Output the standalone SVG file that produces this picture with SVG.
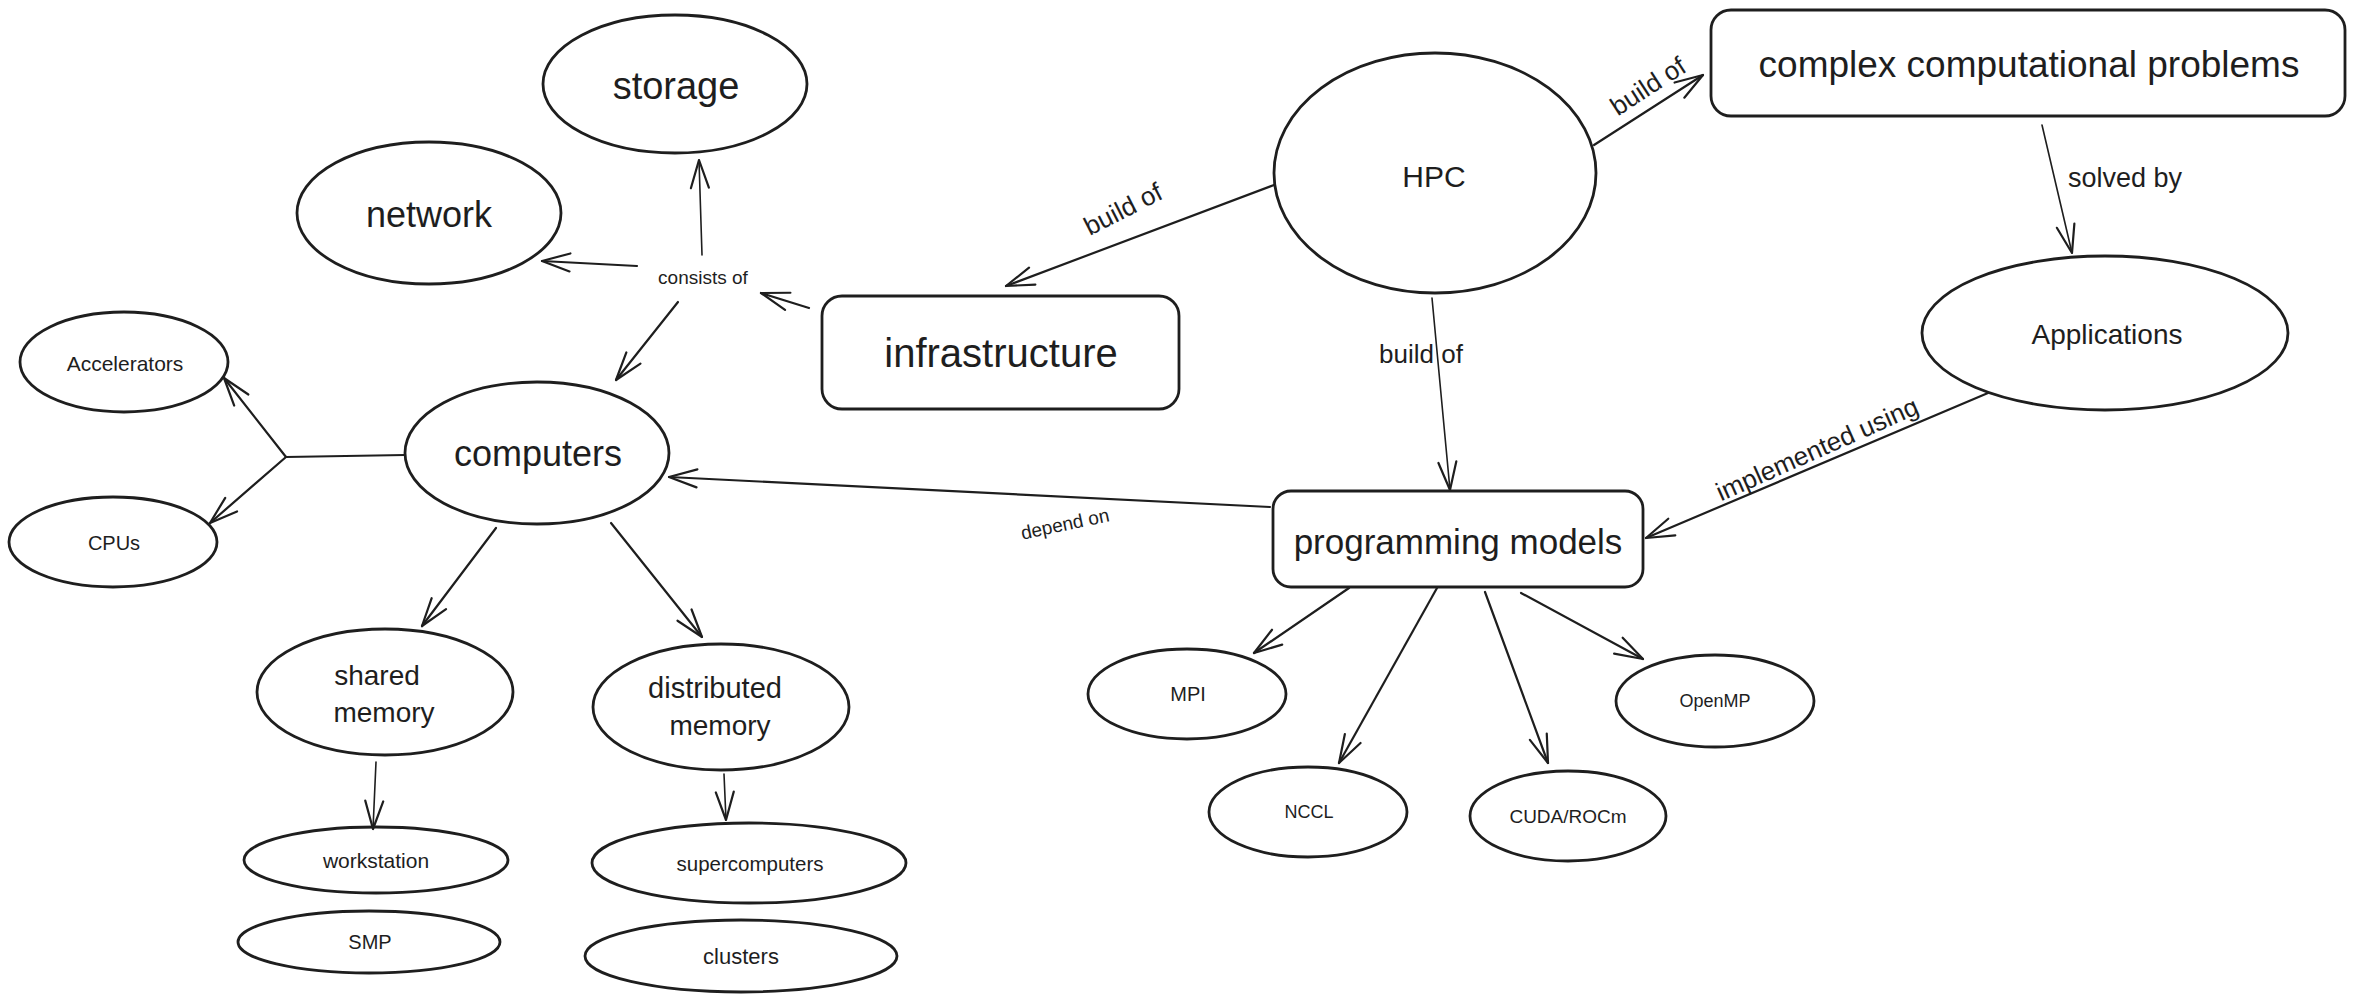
<svg xmlns="http://www.w3.org/2000/svg" width="2355" height="1002" viewBox="0 0 2355 1002">
<style>
.s{fill:none;stroke:#1e1e1e;stroke-width:2.8;stroke-linecap:round;stroke-linejoin:round}
.c{fill:none;stroke:#1e1e1e;stroke-width:2.2;stroke-linecap:round;stroke-linejoin:round}
.ct{stroke-width:1.6}
text{font-family:"Liberation Sans",Arial,sans-serif;fill:#1e1e1e;text-anchor:middle;dominant-baseline:central}
</style>
<defs>
<marker id="ah" viewBox="-32 -16 36 32" refX="0" refY="0" markerWidth="36" markerHeight="32" markerUnits="userSpaceOnUse" orient="auto">
<path d="M-28,-9 L0,0 L-28,9" fill="none" stroke="#1e1e1e" stroke-width="2.2" stroke-linecap="round" stroke-linejoin="round"/>
</marker>
</defs>
<rect width="2355" height="1002" fill="#ffffff"/>

<g id="connectors">
<path class="c ct" d="M702,255 L699,160" marker-end="url(#ah)"/>
<path class="c" d="M637,266 L542,261" marker-end="url(#ah)"/>
<path class="c" d="M678,302 L616,380" marker-end="url(#ah)"/>
<path class="c" d="M809,308 L761,293" marker-end="url(#ah)"/>
<path class="c" d="M1274,185 L1006,286" marker-end="url(#ah)"/>
<path class="c" d="M1594,145 L1703,75" marker-end="url(#ah)"/>
<path class="c ct" d="M1432,298 L1450,490" marker-end="url(#ah)"/>
<path class="c ct" d="M2042,125 L2072,253" marker-end="url(#ah)"/>
<path class="c" d="M1988,393 L1646,538" marker-end="url(#ah)"/>
<path class="c" d="M1270,507 L669,477" marker-end="url(#ah)"/>
<path class="c" d="M405,455 L286,457 L224,378" marker-end="url(#ah)"/>
<path class="c" d="M286,457 L210,523" marker-end="url(#ah)"/>
<path class="c" d="M496,528 L422,626" marker-end="url(#ah)"/>
<path class="c" d="M611,523 L702,637" marker-end="url(#ah)"/>
<path class="c ct" d="M376,762 L373,829" marker-end="url(#ah)"/>
<path class="c ct" d="M724,774 L726,820" marker-end="url(#ah)"/>
<path class="c" d="M1349,588 L1254,653" marker-end="url(#ah)"/>
<path class="c" d="M1437,588 L1339,763" marker-end="url(#ah)"/>
<path class="c" d="M1485,592 L1548,763" marker-end="url(#ah)"/>
<path class="c" d="M1521,593 L1643,659" marker-end="url(#ah)"/>
<text x="703" y="277" font-size="19">consists of</text>
<text x="1123" y="209" font-size="26" transform="rotate(-27 1123 209)">build of</text>
<text x="1648" y="86" font-size="26" transform="rotate(-33 1648 86)">build of</text>
<text x="1421" y="354" font-size="26">build of</text>
<text x="2125" y="178" font-size="27">solved by</text>
<text x="1065" y="524" font-size="19" transform="rotate(-12 1065 524)">depend on</text>
<text x="1817" y="449" font-size="26" transform="rotate(-24 1817 449)">implemented using</text>
</g>

<g id="storage"><ellipse class="s" cx="675" cy="84" rx="132" ry="69"/><text x="676" y="86" font-size="38">storage</text></g>
<g id="network"><ellipse class="s" cx="429" cy="213" rx="132" ry="71"/><text x="429" y="214" font-size="36">network</text></g>
<g id="infrastructure"><rect class="s" x="822" y="296" width="357" height="113" rx="20"/><text x="1001" y="353" font-size="40">infrastructure</text></g>
<g id="computers"><ellipse class="s" cx="537" cy="453" rx="132" ry="71"/><text x="538" y="453" font-size="36">computers</text></g>
<g id="accelerators"><ellipse class="s" cx="124" cy="362" rx="104" ry="50"/><text x="125" y="363" font-size="21">Accelerators</text></g>
<g id="cpus"><ellipse class="s" cx="113" cy="542" rx="104" ry="45"/><text x="114" y="543" font-size="20">CPUs</text></g>
<g id="shared-memory"><ellipse class="s" cx="385" cy="692" rx="128" ry="63"/><text x="377" y="675" font-size="28">shared</text><text x="384" y="712" font-size="28">memory</text></g>
<g id="distributed-memory"><ellipse class="s" cx="721" cy="707" rx="128" ry="63"/><text x="715" y="688" font-size="29">distributed</text><text x="720" y="725" font-size="28">memory</text></g>
<g id="workstation"><ellipse class="s" cx="376" cy="860" rx="132" ry="33"/><text x="376" y="860" font-size="21">workstation</text></g>
<g id="smp"><ellipse class="s" cx="369" cy="942" rx="131" ry="31"/><text x="370" y="942" font-size="20">SMP</text></g>
<g id="supercomputers"><ellipse class="s" cx="749" cy="863" rx="157" ry="40"/><text x="750" y="863" font-size="20.5">supercomputers</text></g>
<g id="clusters"><ellipse class="s" cx="741" cy="956" rx="156" ry="36"/><text x="741" y="956" font-size="22">clusters</text></g>
<g id="hpc"><ellipse class="s" cx="1435" cy="173" rx="161" ry="120"/><text x="1434" y="176" font-size="30">HPC</text></g>
<g id="complex-computational-problems"><rect class="s" x="1711" y="10" width="634" height="106" rx="20"/><text x="2029" y="64" font-size="37">complex computational problems</text></g>
<g id="applications"><ellipse class="s" cx="2105" cy="333" rx="183" ry="77"/><text x="2107" y="334" font-size="28">Applications</text></g>
<g id="programming-models"><rect class="s" x="1273" y="491" width="370" height="96" rx="18"/><text x="1458" y="541" font-size="35">programming models</text></g>
<g id="mpi"><ellipse class="s" cx="1187" cy="694" rx="99" ry="45"/><text x="1188" y="694" font-size="20">MPI</text></g>
<g id="nccl"><ellipse class="s" cx="1308" cy="812" rx="99" ry="45"/><text x="1309" y="812" font-size="18">NCCL</text></g>
<g id="cuda-rocm"><ellipse class="s" cx="1568" cy="816" rx="98" ry="45"/><text x="1568" y="816" font-size="19">CUDA/ROCm</text></g>
<g id="openmp"><ellipse class="s" cx="1715" cy="701" rx="99" ry="46"/><text x="1715" y="701" font-size="18">OpenMP</text></g>
</svg>
